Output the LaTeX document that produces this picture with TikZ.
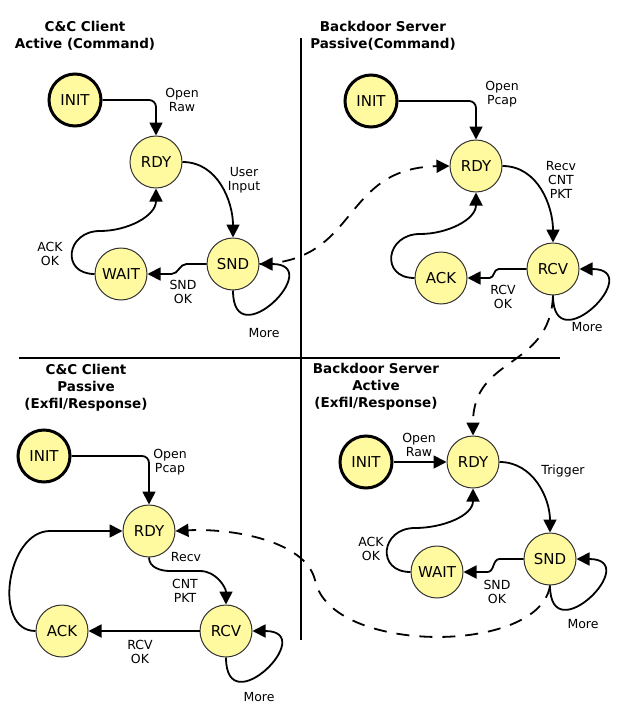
\documentclass[tikz,border=0pt]{standalone}
\usepackage{fontspec}
\setmainfont{DejaVu Sans}
\usetikzlibrary{arrows.meta,calc}

\definecolor{statefill}{RGB}{255,250,160}

\begin{document}
\begin{tikzpicture}[x=1pt, y=1pt,
    state/.style={circle, draw=black!80, line width=1pt, fill=statefill,
                  minimum size=52pt, inner sep=0pt, font=\fontsize{15}{17}\selectfont},
    initstate/.style={state, draw=black, line width=3pt},
    trans/.style={line width=1.8pt, -{Triangle[length=13pt,width=13pt]}},
    dashtrans/.style={trans, dash pattern=on 13pt off 10pt},
    lbl/.style={align=center, inner sep=0pt, font=\fontsize{12.5}{14}\selectfont},
    heading/.style={align=center, inner sep=0pt, font=\bfseries\fontsize{13.5}{17}\selectfont},
    more/.style={out=270, in=0, looseness=4.6}]
\useasboundingbox (0,0) rectangle (627,-720);

% panel borders
\draw[line width=2pt] (301,-38) -- (301,-640);
\draw[line width=2pt] (19,-358) -- (560,-358);

% C&C client, active
\node[heading] (headA) at (85,-36) {C\&C Client\\Active (Command)};
\node[initstate] (initA) at (75,-100) {INIT};
\node[state] (rdyA) at (156,-162) {RDY};
\node[state] (sndA) at (233,-264) {SND};
\node[state] (waitA) at (121,-274) {WAIT};
\node[lbl] (openA) at (182,-100) {Open\\Raw};
\node[lbl] (userA) at (244,-180) {User\\Input};
\node[lbl] (sndokA) at (183,-292) {SND\\OK};
\node[lbl] (ackokA) at (50,-254) {ACK\\OK};
\node[lbl] (moreA) at (264,-333) {More};
\draw[trans, rounded corners=7pt] (initA) -| (rdyA);
\draw[trans] (rdyA.east) to[out=0,in=90] (sndA.north);
\draw[trans] (sndA.west) -- ++(-20,0) to[out=180,in=0] ($(waitA.east)+(24,0)$) -- (waitA.east);
\draw[trans] (waitA.west) to[out=180,in=180,looseness=2] (100,-231) to[out=0,in=270] (rdyA.south);
\draw[trans] (sndA.south) to[more] (sndA.east);

% backdoor server, passive
\node[heading] (headB) at (383,-36) {Backdoor Server\\Passive(Command)};
\node[initstate] (initB) at (371,-101) {INIT};
\node[state] (rdyB) at (476,-166) {RDY};
\node[state] (rcvB) at (553,-269) {RCV};
\node[state] (ackB) at (441,-278) {ACK};
\node[lbl] (openB) at (502,-94) {Open\\Pcap};
\node[lbl] (recvB) at (561,-180) {Recv\\CNT\\PKT};
\node[lbl] (rcvokB) at (503,-297) {RCV\\OK};
\node[lbl] (moreB) at (587,-327) {More};
\draw[trans, rounded corners=7pt] (initB) -| (rdyB);
\draw[trans] (rdyB.east) to[out=0,in=90] (rcvB.north);
\draw[trans] (rcvB.west) -- ++(-28,0) to[out=180,in=0] ($(ackB.east)+(22,0)$) -- (ackB.east);
\draw[trans] (ackB.west) to[out=180,in=180,looseness=2] (420,-234) to[out=0,in=270] (rdyB.south);
\draw[trans] (rcvB.south) to[more] (rcvB.east);

% C&C client, passive
\node[heading] (headC) at (86,-388) {C\&C Client\\Passive\\(Exfil/Response)};
\node[initstate] (initC) at (44,-456) {INIT};
\node[state] (rdyC) at (149,-531) {RDY};
\node[state] (rcvC) at (226,-631) {RCV};
\node[state] (ackC) at (62,-631) {ACK};
\node[lbl] (openC) at (170,-462) {Open\\Pcap};
\node[lbl] (recvC) at (186,-557) {Recv};
\node[lbl] (pktC) at (185,-591) {CNT\\PKT};
\node[lbl] (rcvokC) at (140,-652) {RCV\\OK};
\node[lbl] (moreC) at (259,-697) {More};
\draw[trans, rounded corners=7pt] (initC) -| (rdyC);
\draw[trans] (rdyC.south) to[out=270,in=180] (170,-571) -- (200,-571) to[out=0,in=90] (rcvC.north);
\draw[trans] (rcvC) -- (ackC);
\draw[trans] (ackC.west) to[out=180,in=180,looseness=1.1] (50,-531) -- (rdyC.west);
\draw[trans] (rcvC.south) to[more] (rcvC.east);

% backdoor server, active
\node[heading] (headD) at (376,-387) {Backdoor Server\\Active\\(Exfil/Response)};
\node[initstate] (initD) at (366,-462) {INIT};
\node[state] (rdyD) at (473,-462) {RDY};
\node[state] (sndD) at (550,-559) {SND};
\node[state] (waitD) at (437,-572) {WAIT};
\node[lbl] (openD) at (419,-445) {Open\\Raw};
\node[lbl] (trigD) at (563,-471) {Trigger};
\node[lbl] (ackokD) at (371,-549) {ACK\\OK};
\node[lbl] (sndokD) at (497,-592) {SND\\OK};
\node[lbl] (moreD) at (583,-624) {More};
\draw[trans] (initD) -- (rdyD);
\draw[trans] (rdyD.east) to[out=0,in=90] (sndD.north);
\draw[trans] (sndD.west) -- ++(-24,0) to[out=180,in=0] ($(waitD.east)+(24,0)$) -- (waitD.east);
\draw[trans] (waitD.west) to[out=180,in=180,looseness=2] (415,-528) to[out=0,in=270] (rdyD.south);
\draw[trans] (sndD.south) to[more] (sndD.east);

% traffic between the two sides
\draw[dashtrans] (sndA.east) .. controls (360,-262) and (340,-168) .. (rdyB.west);
\draw[dashtrans] (rcvB.south) .. controls (550,-370) and (473,-355) .. (rdyD.north);
\draw[dashtrans] (sndD.south) .. controls (540,-655) and (330,-655) .. (315,-580)
    .. controls (305,-540) and (230,-528) .. (rdyC.east);
\end{tikzpicture}
\end{document}
